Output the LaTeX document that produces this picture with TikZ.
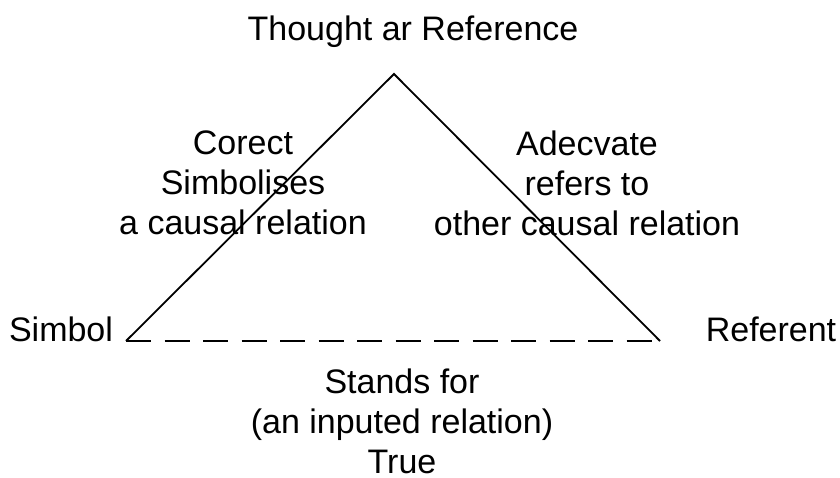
\documentclass[tikz,border=0pt]{standalone}
\usepackage{fontspec}
\setmainfont{Liberation Sans}
\begin{document}
\begin{tikzpicture}[x=1pt,y=-1pt,
  lbl/.style={inner sep=0pt, align=center, font=\fontsize{34}{40}\selectfont},
  side/.style={line width=1.8pt, line join=miter},
  base/.style={line width=1.8pt, dash pattern=on 25pt off 13.5pt}]
\useasboundingbox (0,0) rectangle (840,478);
\coordinate (A) at (394,74);
\coordinate (L) at (126,341);
\coordinate (R) at (660,341);
\draw[base] (L) -- (R);
\draw[side] (L) -- (A) -- (R);
\node[lbl, anchor=base] (title) at (413,41) {Thought ar Reference};
\node[lbl, anchor=center] (left) at (243,183) {Corect\\Simbolises\\a causal relation};
\node[lbl, anchor=center] (right) at (587,183) {Adecvate\\refers to\\other causal relation};
\node[lbl, anchor=base] (simbol) at (61,341) {Simbol};
\node[lbl, anchor=base] (referent) at (771,341) {Referent};
\node[lbl, anchor=center] (bottom) at (402,421) {Stands for\\(an inputed relation)\\True};
\end{tikzpicture}
\end{document}
